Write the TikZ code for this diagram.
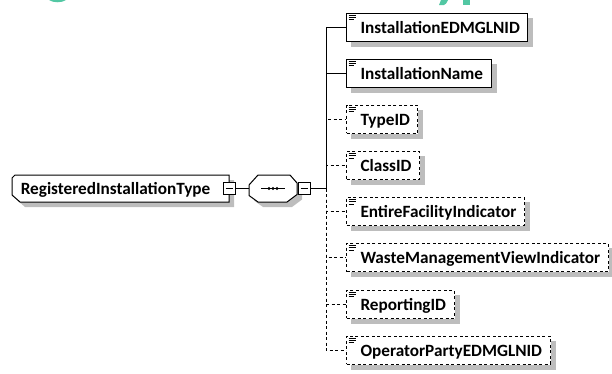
\documentclass[tikz,border=0pt]{standalone}
\usepackage{fontspec}
\newfontfamily\boxfont{Carlito}
\definecolor{HeadTeal}{HTML}{52C7A3}
\definecolor{ShadowGrey}{HTML}{BDBDBD}

\begin{document}
\begin{tikzpicture}[x=1pt, y=-1pt, line width=1pt,
    elem/.style={draw, fill=white, anchor=west,
        font=\boxfont\bfseries\fontsize{17.2}{20}\selectfont,
        inner xsep=8pt, inner ysep=0pt, text height=20pt, text depth=8pt,
        execute at begin node=\hspace*{6pt},
        path picture={
            \draw[solid, line width=0.7pt] ([xshift=2pt, yshift=-2pt]path picture bounding box.north west) -- ++(7pt,0pt);
            \draw[solid, line width=0.7pt] ([xshift=2pt, yshift=-4.3pt]path picture bounding box.north west) -- ++(7pt,0pt);
            \draw[solid, line width=0.7pt] ([xshift=2pt, yshift=-6.6pt]path picture bounding box.north west) -- ++(5pt,0pt);
        }},
    optelem/.style={elem, dash pattern=on 3pt off 2.5pt},
    opt/.style={dash pattern=on 3pt off 2.5pt},
    roottype/.style={rectangle, anchor=west,
        font=\boxfont\bfseries\fontsize{17.2}{20}\selectfont,
        inner sep=0pt, minimum width=217pt, minimum height=27pt,
        text height=19.5pt, text depth=7.5pt,
        execute at end node=\hspace*{11pt}},
    seqbox/.style={rectangle, inner sep=0pt, minimum width=48pt, minimum height=27pt},
    minus/.style={draw, fill=white, minimum size=12pt, inner sep=0pt, line width=0.9pt,
        path picture={\draw ([xshift=2.5pt]path picture bounding box.west) -- ([xshift=-2.5pt]path picture bounding box.east);}}
  ]
  \useasboundingbox (0,0) rectangle (612,373);

  % cut-off heading
  \fill[HeadTeal] (49,0) .. controls (53,3) and (62,3) .. (66,0) -- cycle;
  \fill[HeadTeal] (439,5) -- (444,5) .. controls (446,4) .. (448,0) -- (441,0) -- cycle;
  \fill[HeadTeal] (463,0) rectangle (470,5);

  % outlines of type and sequence, with their shadows
  \fill[ShadowGrey] (17,183) -- (20,180) -- (234,180) -- (234,207) -- (25,207) -- (17,200) -- cycle;
  \draw[fill=white] (12,178) -- (15,175) -- (229,175) -- (229,202) -- (20,202) -- (12,195) -- cycle;
  \fill[ShadowGrey] (263,180) -- (295,180) -- (302,188) -- (302,199.5) -- (292,207) -- (263,207) -- (254,200.5) -- (254,190) -- cycle;
  \draw[fill=white] (258,175) -- (290,175) -- (297,183) -- (297,194.5) -- (287,202) -- (258,202) -- (249,195.5) -- (249,185) -- cycle;

  % type and sequence
  \node[roottype] (root) at (12,188.5) {RegisteredInstallationType};
  \node[minus] (rootm) at (229,188.5) {};
  \node[seqbox] (seq) at (273,188.5) {};
  \draw (seq.center) ++(-12,0) -- ++(24,0);
  \foreach \dx in {-4,0,4}
    \fill ([xshift=\dx pt]seq.center) circle (1.7pt);
  \node[minus] (seqm) at (304,188.5) {};
  \coordinate (trunk) at (326,188.5);

  % child elements
  \node[elem] (edm) at (346,27) {InstallationEDMGLNID};
  \node[elem] (instname) at (346,73) {InstallationName};
  \node[optelem] (typeid) at (346,119) {TypeID};
  \node[optelem] (classid) at (346,165.5) {ClassID};
  \node[optelem] (entire) at (346,211.5) {EntireFacilityIndicator};
  \node[optelem] (waste) at (346,257.5) {WasteManagementViewIndicator};
  \node[optelem] (reporting) at (346,304) {ReportingID};
  \node[optelem] (operator) at (346,350) {OperatorPartyEDMGLNID};

  % shadows of the child elements
  \foreach \n in {edm,instname,typeid,classid,entire,waste,reporting,operator} {
    \fill[ShadowGrey] ([yshift=-5pt]\n.north east) rectangle ([shift={(5pt,-5pt)}]\n.south east);
    \fill[ShadowGrey] ([xshift=5pt]\n.south west) rectangle ([shift={(5pt,-5pt)}]\n.south east);
  }

  \draw (rootm) -- (seq);
  \draw (seqm) -- (trunk);
  \draw (trunk) |- (edm.west);
  \draw (trunk) |- (instname.west);
  \draw[opt] (trunk) |- (typeid.west);
  \draw[opt] (trunk) |- (classid.west);
  \draw[opt] (trunk) |- (entire.west);
  \draw[opt] (trunk) |- (waste.west);
  \draw[opt] (trunk) |- (reporting.west);
  \draw[opt] (trunk) |- (operator.west);
\end{tikzpicture}
\end{document}
